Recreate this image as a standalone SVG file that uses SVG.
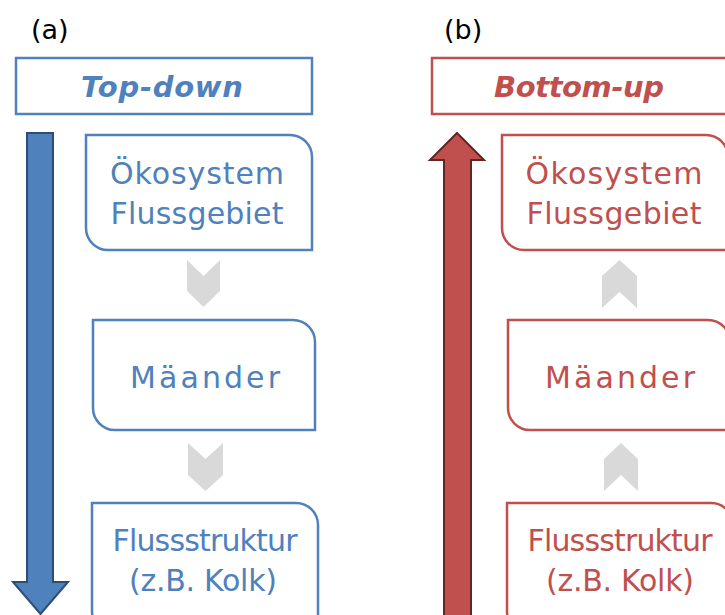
<svg xmlns="http://www.w3.org/2000/svg" width="725" height="615" viewBox="0 0 725 615">
<style>
.lbl{font-family:"DejaVu Sans","Liberation Sans",sans-serif;font-size:30px;text-anchor:middle}
.tt{font-family:"DejaVu Sans","Liberation Sans",sans-serif;font-size:29px;font-weight:bold;font-style:italic;text-anchor:middle}
.pl{font-family:"DejaVu Sans","Liberation Sans",sans-serif;font-size:27px;fill:#000}
.bb{fill:#fff;stroke:#4F81BD;stroke-width:2.5}
.rb{fill:#fff;stroke:#C0504D;stroke-width:2.5}
.bt{fill:#4F81BD}
.rt{fill:#C0504D}
.chev{fill:#D9D9D9}
</style>
<rect width="725" height="615" fill="#fff"/>
<text class="pl" x="31" y="39">(a)</text>
<text class="pl" x="444" y="39">(b)</text>
<g id="title-a">
<rect class="bb" x="16" y="58" width="296" height="56"/>
<text class="tt bt" x="162" y="97" textLength="162">Top-down</text>
</g>
<g id="title-b">
<rect class="rb" x="432" y="58" width="300" height="56"/>
<text class="tt rt" x="579" y="97" textLength="170">Bottom-up</text>
</g>
<g id="connectors">
<polygon points="27,133 53,133 53,582 68,582 40.5,614 13,582 27,582" fill="#4F81BD" stroke="#2C4D75" stroke-width="2"/>
<polygon points="457,133 484,160 471,160 471,625 444,625 444,160 430,160" fill="#C0504D" stroke="#632523" stroke-width="2"/>
<polygon class="chev" points="187,260 203.5,276 220,260 220,291 203.5,307 187,291"/>
<polygon class="chev" points="188,443 205.5,459 223,443 223,475 205.5,491 188,475"/>
<polygon class="chev" points="602,276 619.5,260 637,276 637,308 619.5,292 602,308"/>
<polygon class="chev" points="604,459 621,443 638,459 638,491 621,475 604,491"/>
</g>
<g id="a-oekosystem">
<path class="bb" d="M86,135 H290 A22,22 0 0 1 312,157 V250 H108 A22,22 0 0 1 86,228 Z"/>
<text class="lbl bt" x="197" y="184" textLength="174">Ökosystem</text>
<text class="lbl bt" x="197" y="224" textLength="173">Flussgebiet</text>
</g>
<g id="a-maeander">
<path class="bb" d="M93,320 H293 A22,22 0 0 1 315,342 V430 H115 A22,22 0 0 1 93,408 Z"/>
<text class="lbl bt" x="205" y="388" textLength="150">Mäander</text>
</g>
<g id="a-flussstruktur">
<path class="bb" d="M92,503 H296 A22,22 0 0 1 318,525 V633 H114 A22,22 0 0 1 92,611 Z"/>
<text class="lbl bt" x="205" y="551" textLength="185">Flussstruktur</text>
<text class="lbl bt" x="203" y="591" textLength="148">(z.B. Kolk)</text>
</g>
<g id="b-oekosystem">
<path class="rb" d="M502,135 H706 A22,22 0 0 1 728,157 V250 H524 A22,22 0 0 1 502,228 Z"/>
<text class="lbl rt" x="614" y="184" textLength="177">Ökosystem</text>
<text class="lbl rt" x="614" y="224" textLength="175">Flussgebiet</text>
</g>
<g id="b-maeander">
<path class="rb" d="M508,320 H708 A22,22 0 0 1 730,342 V430 H530 A22,22 0 0 1 508,408 Z"/>
<text class="lbl rt" x="620" y="388" textLength="150">Mäander</text>
</g>
<g id="b-flussstruktur">
<path class="rb" d="M507,503 H711 A22,22 0 0 1 733,525 V633 H529 A22,22 0 0 1 507,611 Z"/>
<text class="lbl rt" x="620" y="551" textLength="185">Flussstruktur</text>
<text class="lbl rt" x="620" y="591" textLength="148">(z.B. Kolk)</text>
</g>
</svg>
